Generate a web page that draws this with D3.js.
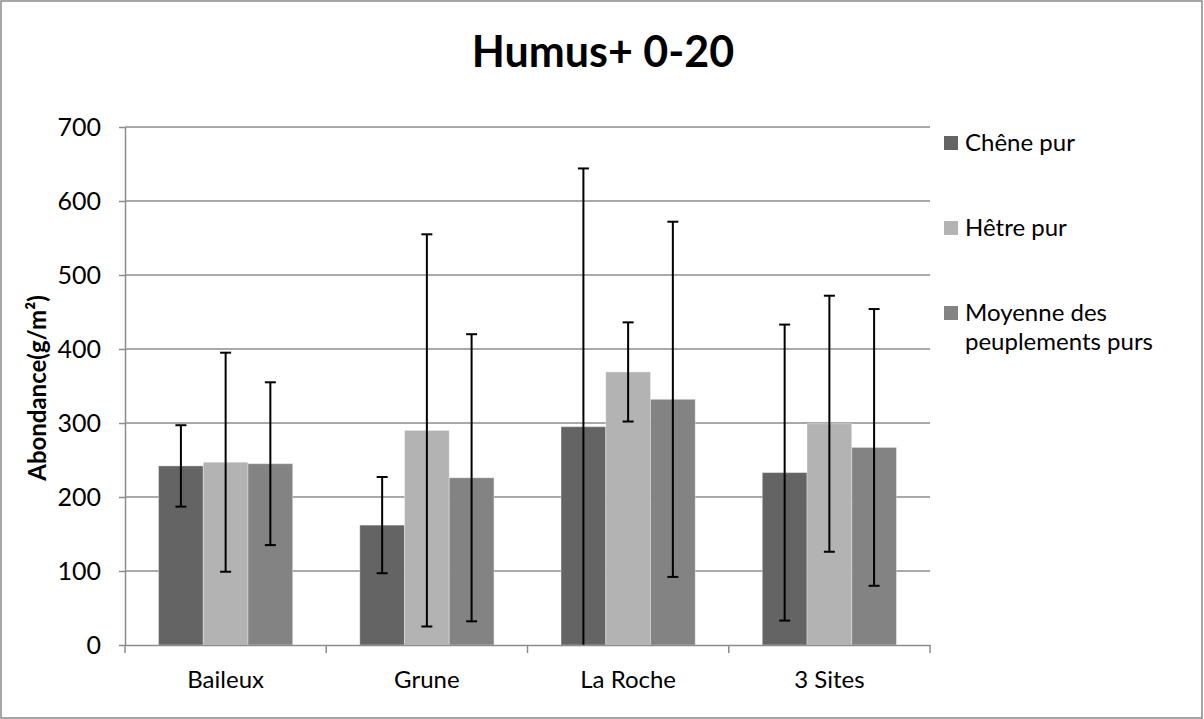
<!DOCTYPE html>
<html>
<head>
<meta charset="utf-8">
<script src="https://cdn.jsdelivr.net/npm/d3@7"></script>
<style>
  html, body { margin: 0; padding: 0; background: #fff; }
  svg { display: block; }
  text { font-family: Lato, "Open Sans", sans-serif; fill: #000; }
</style>
</head>
<body>
<svg id="chart" width="1204" height="719"></svg>
<script>
const title = "Humus+ 0-20";
const yTitle = "Abondance(g/m²)";
const categories = ["Baileux", "Grune", "La Roche", "3 Sites"];
const seriesNames = ["Chêne pur", "Hêtre pur", "Moyenne des peuplements purs"];
const legendLines = [["Chêne pur"], ["Hêtre pur"], ["Moyenne des", "peuplements purs"]];
const chene = [242, 162, 295, 233];
const cheneErr = [55, 65, 349, 200];
const hetre = [247, 290, 369, 299];
const hetreErr = [148, 265, 67, 173];
const moyenne = [245, 226, 332, 267];
const moyenneErr = [110, 194, 240, 187];
const yTicks = [0, 100, 200, 300, 400, 500, 600, 700];
const colors = ["#646464", "#b3b3b3", "#838383"];

const seriesValues = [chene, hetre, moyenne];
const seriesErrors = [cheneErr, hetreErr, moyenneErr];

const svg = d3.select("#chart");
const W = 1204, H = 719;
const plot = { left: 125, right: 930, top: 127, bottom: 645 };

// chart border
svg.append("rect").attr("x", 1).attr("y", 1).attr("width", W - 3).attr("height", H - 2)
  .attr("fill", "#fff").attr("stroke", "#898989").attr("stroke-width", 1.5);

const x = d3.scaleBand().domain(categories).range([plot.left, plot.right]).padding(0);
const xs = d3.scaleBand().domain(d3.range(3)).range([0, x.bandwidth()]).paddingInner(0).paddingOuter(0.75);
const y = d3.scaleLinear().domain([0, 700]).range([plot.bottom, plot.top]);

// gridlines
svg.append("g").selectAll("line").data(yTicks.filter(d => d > 0)).join("line")
  .attr("x1", plot.left).attr("x2", plot.right)
  .attr("y1", d => y(d)).attr("y2", d => y(d))
  .attr("stroke", "#8c8c8c").attr("stroke-width", 1.5);

// clip
svg.append("clipPath").attr("id", "clip").append("rect")
  .attr("x", plot.left).attr("y", 0).attr("width", plot.right - plot.left).attr("height", plot.bottom);

// bars
const data = [];
categories.forEach((c, i) => seriesValues.forEach((s, j) => data.push({ c, j, v: s[i], e: seriesErrors[j][i] })));

const gBars = svg.append("g");
gBars.selectAll("rect").data(data).join("rect")
  .attr("x", d => x(d.c) + xs(d.j))
  .attr("width", xs.bandwidth())
  .attr("y", d => y(d.v))
  .attr("height", d => y(0) - y(d.v))
  .attr("fill", d => colors[d.j])
  .attr("stroke", "rgba(255,255,255,0.35)").attr("stroke-width", 1);

// error bars
const gErr = svg.append("g").attr("clip-path", "url(#clip)").attr("stroke", "#000").attr("stroke-width", 2);
const capW = 11;
data.forEach(d => {
  const cx = x(d.c) + xs(d.j) + xs.bandwidth() / 2;
  gErr.append("line").attr("x1", cx).attr("x2", cx).attr("y1", y(d.v + d.e)).attr("y2", y(d.v - d.e));
  gErr.append("line").attr("x1", cx - capW / 2).attr("x2", cx + capW / 2).attr("y1", y(d.v + d.e)).attr("y2", y(d.v + d.e));
  gErr.append("line").attr("x1", cx - capW / 2).attr("x2", cx + capW / 2).attr("y1", y(d.v - d.e)).attr("y2", y(d.v - d.e));
});

// y axis
const yAxis = svg.append("g").attr("transform", `translate(${plot.left},0)`)
  .call(d3.axisLeft(y).tickValues(yTicks).tickSize(6).tickPadding(18).tickSizeOuter(0));
yAxis.select(".domain").attr("stroke", "#8c8c8c").attr("stroke-width", 1.5);
yAxis.selectAll(".tick line").attr("stroke", "#8c8c8c").attr("stroke-width", 1.5);
yAxis.selectAll(".tick text").attr("font-size", 25).attr("font-family", "Lato").attr("fill", "#000");

// x axis
const xAxis = svg.append("g").attr("transform", `translate(0,${plot.bottom})`)
  .call(d3.axisBottom(x).tickSize(0).tickPadding(26));
xAxis.select(".domain").attr("stroke", "#8c8c8c").attr("stroke-width", 1.5);
xAxis.selectAll(".tick text").attr("font-size", 24).attr("font-family", "Lato").attr("fill", "#000");
// category boundary ticks
const bounds = categories.map(c => x(c)).concat([plot.right]);
svg.append("g").selectAll("line").data(bounds).join("line")
  .attr("x1", d => d).attr("x2", d => d).attr("y1", plot.bottom).attr("y2", plot.bottom + 8)
  .attr("stroke", "#8c8c8c").attr("stroke-width", 1.5);

// title
svg.append("text").attr("x", 603).attr("y", 67).attr("text-anchor", "middle")
  .attr("font-size", 43).attr("font-weight", "bold").text(title);

// y title
svg.append("text").attr("transform", `translate(46,388) rotate(-90)`).attr("text-anchor", "middle")
  .attr("font-size", 24).attr("font-weight", "bold").text(yTitle);

// legend
const leg = svg.append("g");
legendLines.forEach((lines, i) => {
  const top = 136 + i * 85;
  leg.append("rect").attr("x", 944).attr("y", top).attr("width", 14).attr("height", 14).attr("fill", colors[i]);
  lines.forEach((t, k) => {
    leg.append("text").attr("x", 965).attr("y", top + 15 + k * 29).attr("font-size", 24).text(t);
  });
});
</script>
</body>
</html>
